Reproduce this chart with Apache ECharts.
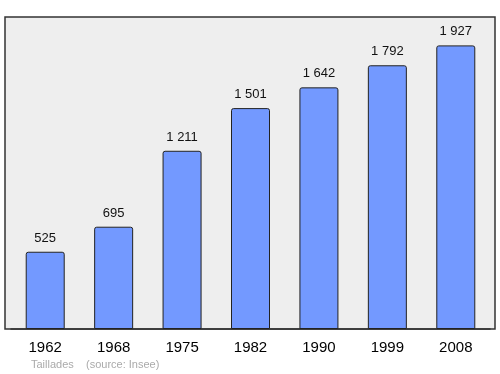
<!DOCTYPE html>
<html><head><meta charset="utf-8">
<script src="https://cdn.jsdelivr.net/npm/echarts@6/dist/echarts.min.js"></script>
<style>html,body{margin:0;padding:0;background:#fff}#c{width:500px;height:374px}</style>
</head><body><div id="c"></div>
<script>
const years = ['1962','1968','1975','1982','1990','1999','2008'];
const population = [525, 695, 1211, 1501, 1642, 1792, 1927];
const fmt = v => String(v).replace(/\B(?=(\d{3})+(?!\d))/g, ' ');
const chart = echarts.init(document.getElementById('c'), null, {renderer: 'canvas'});
chart.setOption({
  animation: false,
  graphic: [
    {type: 'rect', z: -10, shape: {x: 5, y: 17, width: 490, height: 312},
     style: {fill: '#eeeeee', stroke: '#333333', lineWidth: 1.5}},
    {type: 'text', left: 31, top: 359, style: {text: 'Taillades    (source: Insee)', fill: '#aaaaaa', font: '11px "Liberation Sans", Arial, sans-serif'}}
  ],
  grid: {left: 11, right: 10, top: 17, bottom: 45},
  xAxis: {
    type: 'category', data: years,
    axisLine: {show: true, lineStyle: {color: '#333', width: 1.5}},
    axisTick: {show: false},
    axisLabel: {color: '#000', fontSize: 15, margin: 11, fontFamily: '"Liberation Sans", Arial, sans-serif'}
  },
  yAxis: {
    type: 'value', min: 0, max: 2120,
    axisLine: {show: false}, axisTick: {show: false}, axisLabel: {show: false},
    splitLine: {show: false}
  },
  series: [{
    type: 'bar', data: population, barWidth: 39,
    itemStyle: {color: '#7399ff', borderColor: '#222', borderWidth: 1, borderRadius: [2,2,0,0]},
    label: {show: true, position: 'top', distance: 7, color: '#111', fontSize: 13,
      fontFamily: '"Liberation Sans", Arial, sans-serif', formatter: p => fmt(p.value)}
  }]
});
</script></body></html>
